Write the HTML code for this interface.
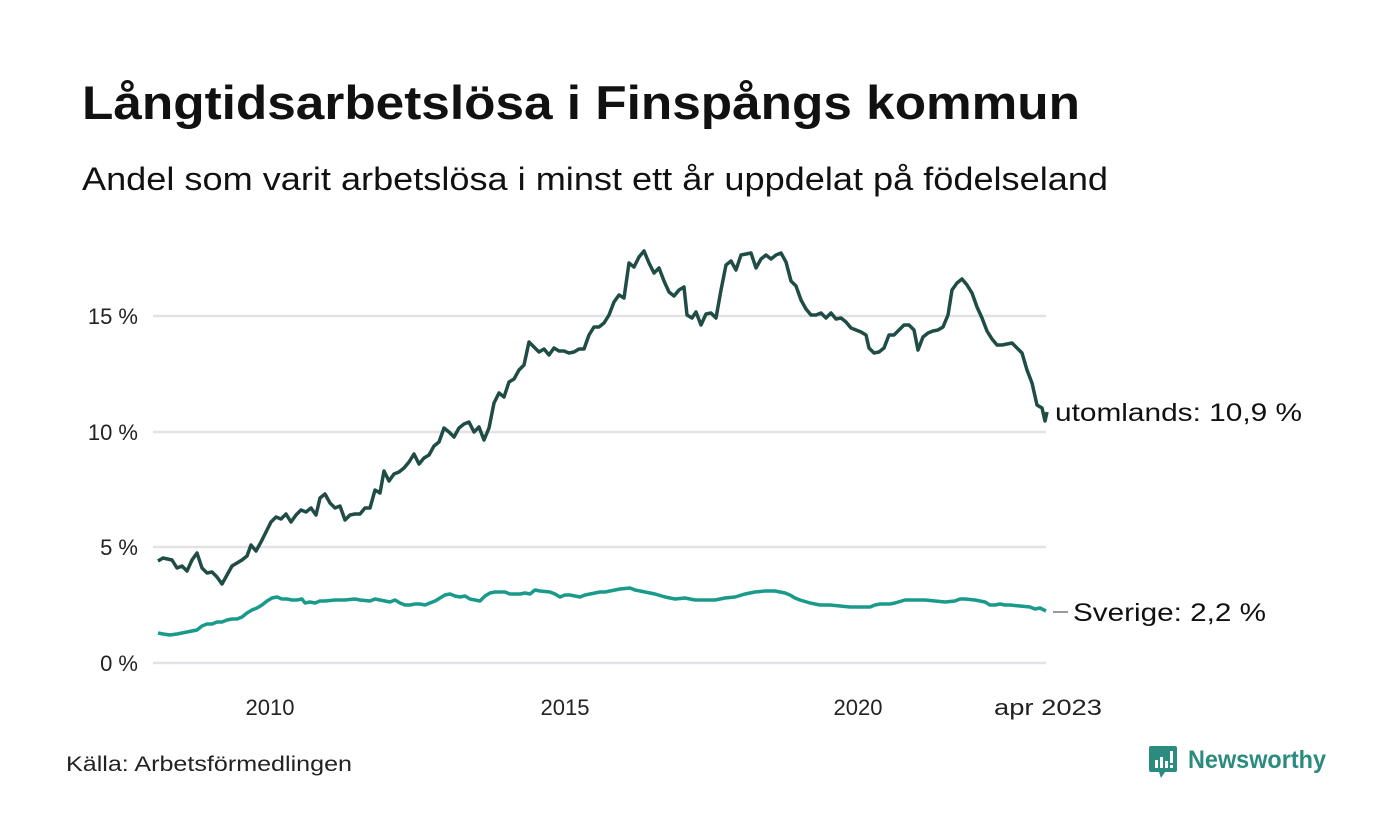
<!DOCTYPE html>
<html><head><meta charset="utf-8"><style>
html,body{margin:0;padding:0;background:#fff;}
body{width:1400px;height:840px;position:relative;overflow:hidden;font-family:"Liberation Sans",sans-serif;color:#111;}
</style></head><body>
<svg width="1400" height="840" style="position:absolute;left:0;top:0">
<text x="82" y="119" font-family="Liberation Sans, sans-serif" font-size="47" font-weight="bold" fill="#111" textLength="998" lengthAdjust="spacingAndGlyphs">Långtidsarbetslösa i Finspångs kommun</text>
<text x="82" y="190" font-family="Liberation Sans, sans-serif" font-size="32" fill="#111" textLength="1026" lengthAdjust="spacingAndGlyphs">Andel som varit arbetslösa i minst ett år uppdelat på födelseland</text>
<g stroke="#e2e2e6" stroke-width="2.5">
<line x1="153" y1="316" x2="1046" y2="316"/><line x1="153" y1="432" x2="1046" y2="432"/>
<line x1="153" y1="547" x2="1046" y2="547"/><line x1="153" y1="663" x2="1046" y2="663"/>
</g>
<g font-family="Liberation Sans, sans-serif" font-size="22" fill="#222" text-anchor="end">
<text x="138" y="324">15 %</text><text x="138" y="440">10 %</text><text x="138" y="555">5 %</text><text x="138" y="671">0 %</text>
</g>
<g font-family="Liberation Sans, sans-serif" font-size="22" fill="#222" text-anchor="middle">
<text x="270" y="715">2010</text><text x="565" y="715">2015</text><text x="858" y="715">2020</text><text x="1048" y="715" textLength="108" lengthAdjust="spacingAndGlyphs">apr 2023</text>
</g>
<polyline fill="none" stroke="#1a9a8a" stroke-width="3.5" stroke-linejoin="round" points="158,633 163,634 170,635 177,634 182,633 187,632 192,631 197,630 202,626 207,624 212,624 217,622 222,622 227,620 232,619 237,619 242,617 247,613 252,610 257,608 262,605 267,601 272,598 277,597 282,599 287,599 292,600 297,600 302,599 305,603 310,602 315,603 320,601 325,601 335,600 345,600 355,599 360,600 370,601 375,599 380,600 390,602 395,600 400,603 405,605 410,605 415,604 420,604 425,605 430,603 435,601 440,598 445,595 450,594 455,596 460,597 465,596 470,599 475,600 480,601 485,596 490,593 495,592 500,592 505,592 510,594 515,594 520,594 525,593 530,594 535,590 540,591 550,592 555,594 560,597 565,595 570,595 575,596 580,597 585,595 590,594 595,593 600,592 605,592 610,591 615,590 620,589 630,588 635,590 645,592 655,594 665,597 675,599 685,598 695,600 705,600 715,600 725,598 735,597 745,594 755,592 765,591 775,591 785,593 790,595 795,598 800,600 810,603 820,605 830,605 840,606 850,607 860,607 870,607 875,605 880,604 890,604 895,603 905,600 915,600 925,600 935,601 945,602 955,601 960,599 965,599 975,600 985,602 990,605 995,605 1000,604 1005,605 1010,605 1020,606 1030,607 1035,609 1040,608 1046,611"/>
<polyline fill="none" stroke="#1f4d45" stroke-width="3.5" stroke-linejoin="round" points="158,561 163,558 172,560 177,568 182,566 187,571 192,560 197,553 202,568 207,573 212,572 217,577 222,584 227,575 232,566 237,563 242,560 247,556 251,545 256,551 261,542 266,532 271,522 276,517 281,519 286,514 291,522 296,515 301,510 306,512 311,508 316,515 320,498 325,494 330,503 335,508 340,506 345,520 350,515 355,514 360,514 365,508 370,508 375,490 380,493 384,471 389,481 394,474 399,472 404,468 409,462 414,454 419,464 424,458 429,455 434,446 439,442 444,428 449,432 454,437 459,428 464,424 469,422 474,432 479,427 484,440 489,428 494,403 499,393 504,397 509,382 514,379 519,370 524,365 529,342 534,347 539,352 544,349 549,355 554,348 559,351 564,351 569,353 574,352 579,349 584,349 589,335 594,327 599,327 604,323 609,315 614,302 619,295 624,298 629,263 634,267 639,257 644,251 649,263 654,273 659,268 664,281 669,292 674,296 679,290 684,287 687,315 692,318 696,312 701,325 706,314 711,313 716,318 721,290 726,265 731,261 736,270 741,255 746,254 751,253 756,268 761,259 766,255 771,259 776,255 781,253 786,262 791,281 796,286 801,300 806,309 811,315 816,315 821,313 826,318 831,313 836,319 841,318 846,322 851,328 856,330 861,332 866,335 869,348 874,353 879,352 884,348 889,335 894,335 899,330 904,325 909,325 914,330 918,350 923,337 928,333 933,331 938,330 943,327 948,315 952,290 957,283 962,279 967,285 972,293 977,307 982,318 987,331 992,339 997,345 1002,345 1007,344 1012,343 1017,348 1022,353 1027,370 1032,383 1037,405 1042,408 1045,421 1047,412"/>
<line x1="1053" y1="612" x2="1068" y2="612" stroke="#333" stroke-width="1"/>
<g font-family="Liberation Sans, sans-serif" font-size="25" fill="#111">
<text x="1055" y="421" textLength="247" lengthAdjust="spacingAndGlyphs">utomlands: 10,9 %</text>
<text x="1073" y="621" textLength="193" lengthAdjust="spacingAndGlyphs">Sverige:  2,2 %</text>
</g>
<text x="66" y="771" font-family="Liberation Sans, sans-serif" font-size="21" fill="#222" textLength="286" lengthAdjust="spacingAndGlyphs">Källa: Arbetsförmedlingen</text>
<g transform="translate(1149,746)">
<path d="M0,2 Q0,0 2,0 H26 Q28,0 28,2 V24 Q28,26 26,26 H16 L12,32 L10,26 H2 Q0,26 0,24 Z" fill="#2b8b7e"/>
<rect x="6" y="14" width="3" height="8" fill="#fff"/><rect x="11" y="11" width="3" height="11" fill="#fff"/><rect x="16" y="15" width="3" height="7" fill="#fff"/><rect x="21" y="5" width="3" height="12" fill="#fff"/><rect x="21" y="19" width="3" height="3" fill="#fff"/>
</g>
<text x="1188" y="768" font-family="Liberation Sans, sans-serif" font-size="25" font-weight="bold" fill="#2b8b7e" textLength="138" lengthAdjust="spacingAndGlyphs">Newsworthy</text>
</svg>
</body></html>
